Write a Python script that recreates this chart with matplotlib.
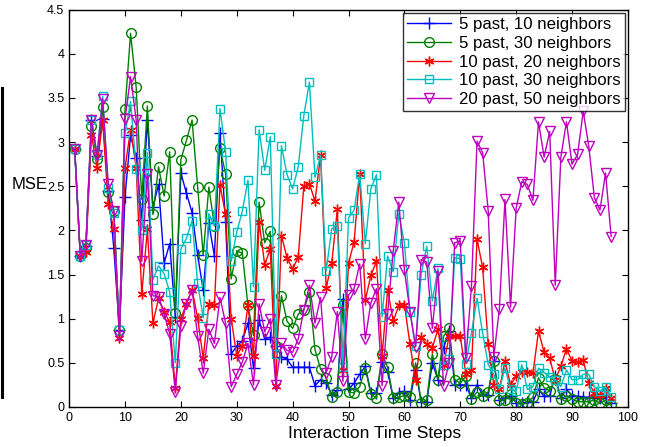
import matplotlib
matplotlib.use('Agg')
import matplotlib.pyplot as plt
from matplotlib.lines import Line2D
import numpy as np

plt.rcParams['font.family'] = ['Liberation Sans', 'DejaVu Sans']

# time steps 1..97
steps = np.arange(1, 98)

# MSE values
p5_n10 = [2.92, 1.71, 1.82, 3.25, 2.84, 3.26, 2.45, 1.80, 0.87, 2.38,
          3.08, 2.82, 2.12, 3.25, 2.26, 2.52, 1.63, 1.85, 1.02, 2.65,
          2.42, 2.20, 1.72, 1.32, 2.08, 1.71, 3.10, 2.09, 0.60, 0.69,
          0.75, 0.95, 0.44, 0.98, 0.77, 0.79, 0.69, 0.57, 0.54, 0.45,
          0.45, 0.45, 0.45, 0.24, 0.31, 0.27, 0.14, 0.19, 1.22, 0.20,
          0.27, 0.37, 0.46, 0.16, 0.16, 0.51, 0.40, 0.10, 0.16, 0.18,
          0.08, 0.42, 0.06, 0.06, 0.50, 0.31, 0.67, 0.86, 0.25, 0.25,
          0.25, 0.10, 0.25, 0.14, 0.14, 0.52, 0.08, 0.10, 0.12, 0.05,
          0.04, 0.06, 0.06, 0.20, 0.12, 0.13, 0.35, 0.10, 0.20, 0.13,
          0.12, 0.11, 0.11, 0.10, 0.10, 0.11, 0.04]
p5_n30 = [2.92, 1.71, 1.80, 3.18, 2.81, 3.40, 2.44, 2.22, 0.87, 3.37,
          4.23, 3.62, 2.35, 3.41, 2.18, 2.72, 2.39, 2.89, 1.06, 2.80,
          3.02, 3.25, 2.49, 1.72, 2.49, 2.05, 2.93, 2.64, 1.45, 1.77,
          1.74, 1.15, 0.81, 2.32, 1.86, 1.99, 0.69, 1.26, 0.97, 0.89,
          1.05, 1.10, 1.30, 0.65, 0.43, 0.33, 0.11, 0.17, 1.15, 0.17,
          0.16, 0.23, 0.44, 0.15, 0.10, 0.60, 0.45, 0.10, 0.11, 0.13,
          0.11, 0.50, 0.05, 0.08, 0.60, 0.31, 0.80, 0.89, 0.31, 0.27,
          0.35, 0.09, 0.17, 0.12, 0.17, 0.52, 0.08, 0.08, 0.15, 0.05,
          0.03, 0.05, 0.11, 0.33, 0.22, 0.18, 0.32, 0.09, 0.13, 0.09,
          0.06, 0.06, 0.06, 0.08, 0.04, 0.08, 0.02]
p10_n20 = [2.92, 1.71, 1.76, 3.08, 2.71, 3.25, 2.30, 2.01, 0.78, 2.71,
           3.14, 2.71, 1.28, 2.01, 0.95, 1.23, 1.08, 0.96, 0.22, 1.00,
           1.17, 1.33, 1.01, 0.55, 1.17, 1.15, 2.51, 2.18, 1.00, 0.58,
           0.69, 1.15, 0.58, 2.10, 1.61, 1.79, 0.24, 1.94, 1.69, 1.56,
           1.70, 2.50, 2.53, 2.33, 2.85, 1.35, 1.63, 2.24, 0.42, 1.63,
           1.87, 2.64, 1.21, 1.49, 1.65, 0.58, 1.33, 0.97, 1.15, 1.16,
           0.71, 0.31, 0.79, 0.71, 0.67, 0.88, 0.48, 0.80, 0.80, 0.80,
           0.37, 0.42, 1.90, 1.58, 0.71, 0.25, 0.20, 0.52, 0.25, 0.35,
           0.40, 0.40, 0.38, 0.86, 0.62, 0.55, 0.31, 0.46, 0.66, 0.52,
           0.51, 0.53, 0.27, 0.16, 0.14, 0.22, 0.10]
p10_n30 = [2.92, 1.71, 1.84, 3.25, 2.85, 3.52, 2.48, 2.20, 0.87, 3.10,
           3.46, 2.70, 2.00, 2.88, 1.44, 1.60, 1.51, 1.30, 0.50, 1.79,
           1.91, 2.11, 1.40, 1.01, 2.19, 2.05, 3.38, 2.89, 1.65, 1.98,
           2.22, 2.57, 1.36, 3.14, 2.68, 3.06, 0.60, 2.96, 2.63, 2.47,
           2.72, 3.30, 3.68, 2.60, 2.85, 1.54, 2.02, 2.05, 0.45, 2.14,
           2.23, 2.64, 1.85, 2.47, 2.63, 1.02, 1.71, 1.53, 2.19, 1.86,
           1.08, 0.69, 1.50, 1.82, 1.20, 1.57, 0.48, 0.54, 1.69, 1.68,
           0.49, 0.84, 1.23, 0.84, 0.48, 0.37, 0.20, 0.44, 0.20, 0.18,
           0.48, 0.20, 0.23, 0.44, 0.39, 0.34, 0.31, 0.23, 0.42, 0.31,
           0.31, 0.37, 0.37, 0.23, 0.18, 0.23, 0.11]
p20_n50 = [2.92, 1.71, 1.84, 3.25, 2.85, 3.49, 2.52, 2.22, 0.80, 3.26,
           3.74, 3.25, 1.65, 2.64, 1.26, 1.25, 1.05, 0.83, 0.17, 0.92,
           1.17, 1.33, 0.80, 0.38, 0.88, 0.72, 1.24, 0.95, 0.23, 0.37,
           0.51, 0.72, 0.25, 1.17, 0.85, 1.00, 0.25, 0.72, 0.64, 0.62,
           0.77, 1.10, 1.38, 0.95, 1.24, 0.39, 0.57, 1.08, 0.29, 1.27,
           1.34, 1.62, 0.77, 1.18, 1.34, 0.24, 1.05, 1.77, 2.32, 1.55,
           1.08, 0.68, 1.67, 1.64, 0.89, 1.54, 0.24, 0.50, 1.86, 1.88,
           0.55, 1.37, 3.01, 2.88, 2.22, 0.57, 1.11, 2.35, 1.13, 2.25,
           2.55, 2.52, 2.34, 3.23, 2.83, 3.12, 1.38, 2.83, 3.23, 2.75,
           2.86, 3.35, 2.95, 2.37, 2.23, 2.65, 1.93]

labels = ['5 past, 10 neighbors', '5 past, 30 neighbors', '10 past, 20 neighbors',
          '10 past, 30 neighbors', '20 past, 50 neighbors']
series = [p5_n10, p5_n30, p10_n20, p10_n30, p20_n50]
colors = ['#0000ff', '#008000', '#ff0000', '#00bfbf', '#bf00bf']
markers = ['+', 'o', (6, 2, 0), 's', 'v']  # (6,2,0) = matlab-like asterisk
msizes = [8, 7, 7, 6, 7]

fig = plt.figure(figsize=(6.46, 4.47), dpi=100)
ax = fig.add_axes([0.107, 0.0895, 0.865, 0.889])

for y, lab, c, m, ms in zip(series, labels, colors, markers, msizes):
    ax.plot(steps, y, color=c, marker=m, markersize=ms, markerfacecolor='none',
            markeredgecolor=c, linewidth=1.0, markeredgewidth=1.0, label=lab)

ax.set_xlim(0, 100)
ax.set_ylim(0, 4.5)
ax.set_xticks(np.arange(0, 101, 10))
ax.set_yticks(np.arange(0, 4.6, 0.5))
ax.set_yticklabels(['0', '0.5', '1', '1.5', '2', '2.5', '3', '3.5', '4', '4.5'])
ax.tick_params(direction='in', top=True, right=True, labelsize=9, length=4)
for s in ax.spines.values():
    s.set_linewidth(1.0)

ax.set_xlabel('Interaction Time Steps', fontsize=12.5)
ax.xaxis.set_label_coords(0.546, -0.048)
ax.set_ylabel('MSE', fontsize=12, rotation=0, va='center', ha='right')
ax.yaxis.set_label_coords(-0.039, 0.559)

leg = ax.legend(loc='upper right', fontsize=12.1, frameon=True, fancybox=False,
                borderpad=0.25, labelspacing=0.22, handlelength=2.6,
                handletextpad=0.45, borderaxespad=0.2)
leg.get_frame().set_edgecolor('black')
leg.get_frame().set_linewidth(1.0)

# stray vertical rule at the left edge of the picture
fig.add_artist(Line2D([0.003, 0.003], [1 - 88 / 447, 1 - 397 / 447],
                      color='black', linewidth=2.2))

fig.savefig('out.png', dpi=100)
